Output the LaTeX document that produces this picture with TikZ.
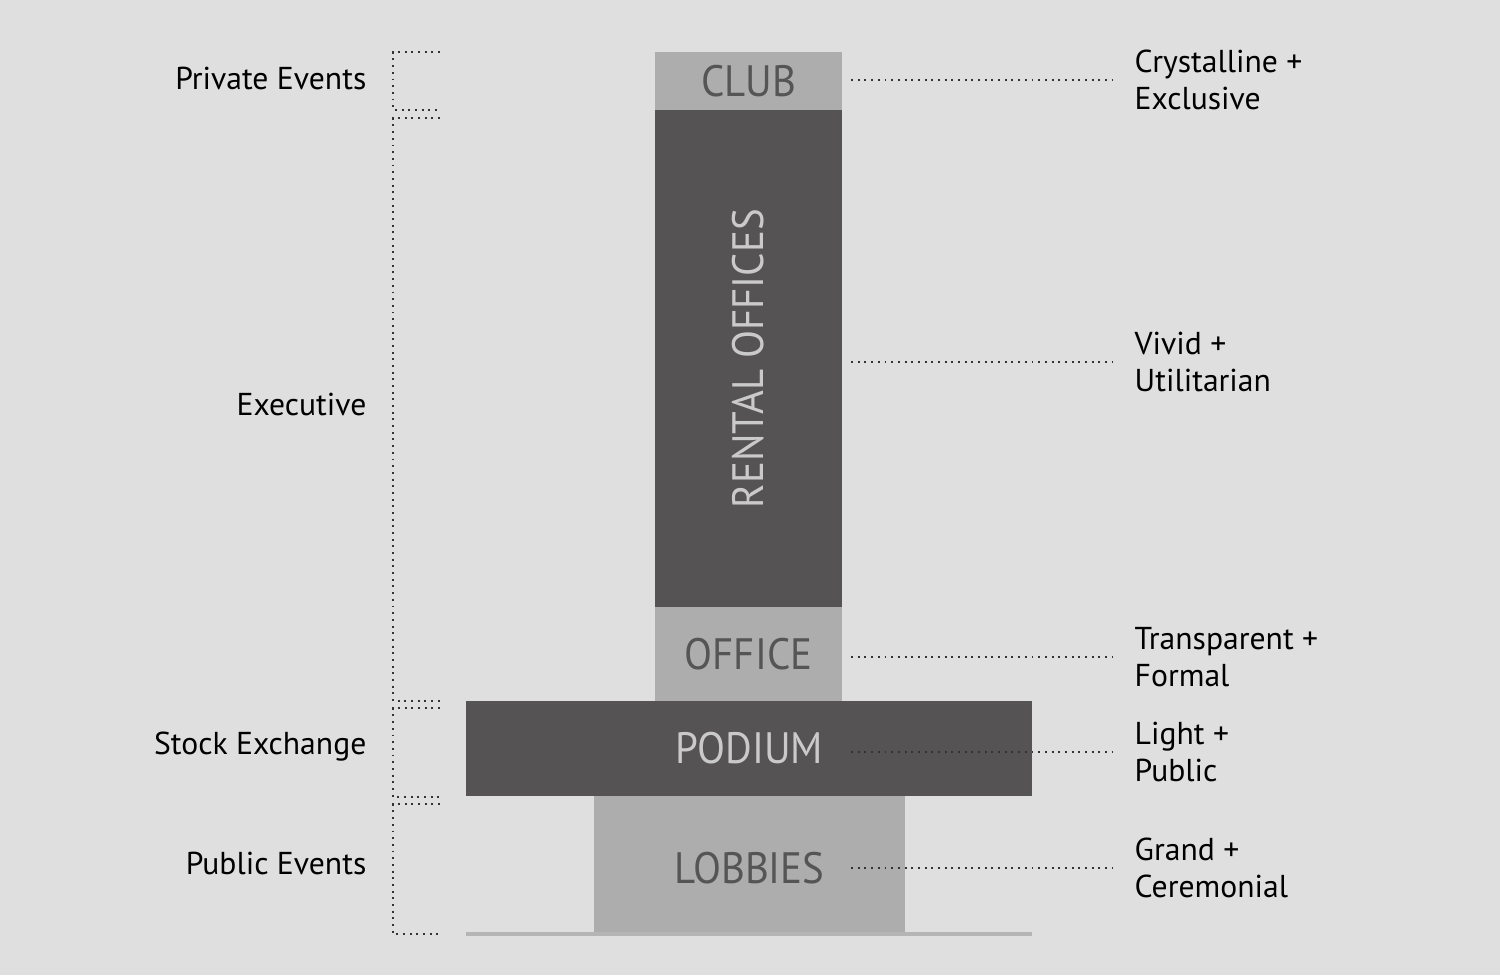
\documentclass[tikz,border=0pt]{standalone}
\usepackage{fontspec}
\setmainfont{PT Sans}
\newfontfamily\bloccofont[FakeStretch=0.93]{PT Sans}
\usepackage{xcolor}
\definecolor{sfondo}{HTML}{DFDFDF}
\definecolor{scuro}{HTML}{555354}
\definecolor{chiaro}{HTML}{ADADAD}
\definecolor{testoscuro}{HTML}{555555}
\definecolor{testochiaro}{HTML}{CACACA}
\definecolor{punti}{HTML}{333333}
\tikzset{
  blocco/.style={draw=none, inner sep=0pt, outer sep=0pt, anchor=north west,
    font=\bloccofont\fontsize{12.5}{15}\selectfont},
  bloccochiaro/.style={blocco, fill=chiaro, text=testoscuro},
  bloccoscuro/.style={blocco, fill=scuro, text=testochiaro},
  etichetta/.style={inner sep=0pt, font=\fontsize{9}{10.5}\selectfont, align=left},
  puntini/.style={draw=punti, line width=0.55pt, dash pattern=on 0.55pt off 1.35pt}
}
\begin{document}
\begin{tikzpicture}[x=0.01cm, y=-0.01cm]

  % --- sfondo e riquadro -------------------------------------------------
  \fill[sfondo] (0,0) rectangle (1500,975);

  % --- blocchi della torre -----------------------------------------------
  \node[bloccochiaro, minimum width=1.87cm, minimum height=0.58cm] (club) at (655,52) {CLUB};
  \node[bloccoscuro, minimum width=1.87cm, minimum height=4.97cm] (rental) at (655,110) {};
  \node[rotate=90, text=testochiaro, font=\bloccofont\fontsize{12.5}{15}\selectfont] at (rental.center) {RENTAL OFFICES};
  \node[bloccochiaro, minimum width=1.87cm, minimum height=0.94cm] (office) at (655,607) {OFFICE};
  \node[bloccoscuro, minimum width=5.66cm, minimum height=0.95cm] (podium) at (466,701) {PODIUM};
  \node[bloccochiaro, minimum width=3.11cm, minimum height=1.37cm] (lobbies) at (594,796) {};
  \node[text=testoscuro, font=\bloccofont\fontsize{12.5}{15}\selectfont] at ([yshift=-0.04cm]lobbies.center) {LOBBIES};
  \draw[chiaro!90!white, line width=1.15pt] (podium.west |- 0,934) coordinate (base-w)
    -- (podium.east |- 0,934) coordinate (base-e);

  % --- etichette a destra --------------------------------------------------
  \node[etichetta, anchor=west] (l-club)    at (1134,80)  {Crystalline +\\Exclusive};
  \node[etichetta, anchor=west] (l-rental)  at (1134,362) {Vivid +\\Utilitarian};
  \node[etichetta, anchor=west] (l-office)  at (1134,657) {Transparent +\\Formal};
  \node[etichetta, anchor=west] (l-podium)  at (1134,752) {Light +\\Public};
  \node[etichetta, anchor=west] (l-lobbies) at (1134,868) {Grand +\\Ceremonial};

  % linee tratteggiate verso le etichette
  \foreach \b in {club,rental,office,podium,lobbies} {
    \draw[puntini] ([xshift=0.09cm]club.east |- l-\b.west) -- ([xshift=-0.21cm]l-\b.west);
  }

  % --- etichette a sinistra con parentesi ------------------------------------
  \node[etichetta, anchor=east] (s-private) at (367,78)  {Private Events};
  \node[etichetta, anchor=east] (s-exec)    at (367,404) {Executive};
  \node[etichetta, anchor=east] (s-stock)   at (367,747) {Stock Exchange};
  \node[etichetta, anchor=east] (s-public)  at (367,863) {Public Events};

  \foreach \a/\z in {52/110, 118/701, 708/797, 804/934} {
    \draw[puntini] (440,\a) -- (393,\a) -- (393,\z) -- (440,\z);
  }

\end{tikzpicture}
\end{document}
